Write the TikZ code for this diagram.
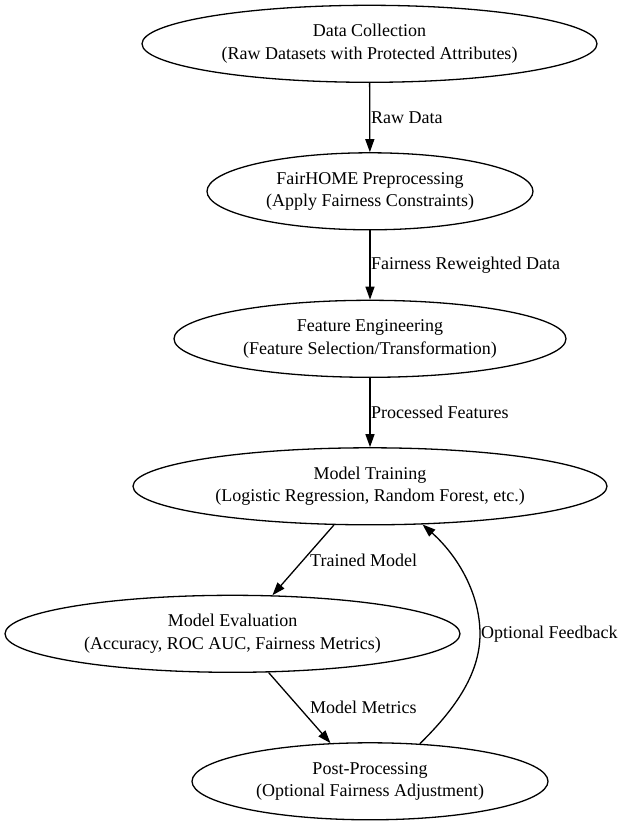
\documentclass[tikz,border=0pt]{standalone}
\usepackage{fontspec}
\setmainfont{Liberation Serif}
\usetikzlibrary{shapes.geometric,arrows.meta}
\tikzset{
  ell/.style={draw, ellipse, line width=1.3pt, inner sep=0pt, align=center,
    font=\fontsize{18}{22.5}\selectfont},
  lbl/.style={inner sep=0pt, anchor=west, font=\fontsize{18}{22}\selectfont},
  conn/.style={line width=1.3pt, -{Triangle[length=13pt,width=9pt]}}
}
\begin{document}
\begin{tikzpicture}[x=1pt,y=-1pt]
\useasboundingbox (0,0) rectangle (623,825);
\node[ell, minimum width=455pt, minimum height=77pt] (dc) at (369.5,43.8)
  {Data Collection\\(Raw Datasets with Protected Attributes)};
\node[ell, minimum width=326pt, minimum height=77pt] (fh) at (370,191.3)
  {FairHOME Preprocessing\\(Apply Fairness Constraints)};
\node[ell, minimum width=392pt, minimum height=77pt] (fe) at (370,338.8)
  {Feature Engineering\\(Feature Selection/Transformation)};
\node[ell, minimum width=474pt, minimum height=77pt] (mt) at (370,486.3)
  {Model Training\\(Logistic Regression, Random Forest, etc.)};
\node[ell, minimum width=455pt, minimum height=77pt] (me) at (232.5,633.8)
  {Model Evaluation\\(Accuracy, ROC AUC, Fairness Metrics)};
\node[ell, minimum width=356pt, minimum height=77pt] (pp) at (370,781.3)
  {Post-Processing\\(Optional Fairness Adjustment)};

\draw[conn] (dc) -- (fh);
\draw[conn] (fh) -- (fe);
\draw[conn] (fe) -- (mt);
\draw[conn] (mt.227) -- (me.44.5);
\draw[conn] (me.-47) -- (pp.136);
\draw[conn] (pp.37) .. controls (452,712) and (480,676) .. (480,634)
  .. controls (480,594) and (458,556) .. (mt.-36);

\node[lbl] (l1) at (371,117.5) {Raw Data};
\node[lbl] (l2) at (371,265) {Fairness Reweighted Data};
\node[lbl] (l3) at (371,412.5) {Processed Features};
\node[lbl] (l4) at (310,560) {Trained Model};
\node[lbl] (l5) at (310,707) {Model Metrics};
\node[lbl] (l6) at (481,634) {Optional Feedback};
\end{tikzpicture}
\end{document}
